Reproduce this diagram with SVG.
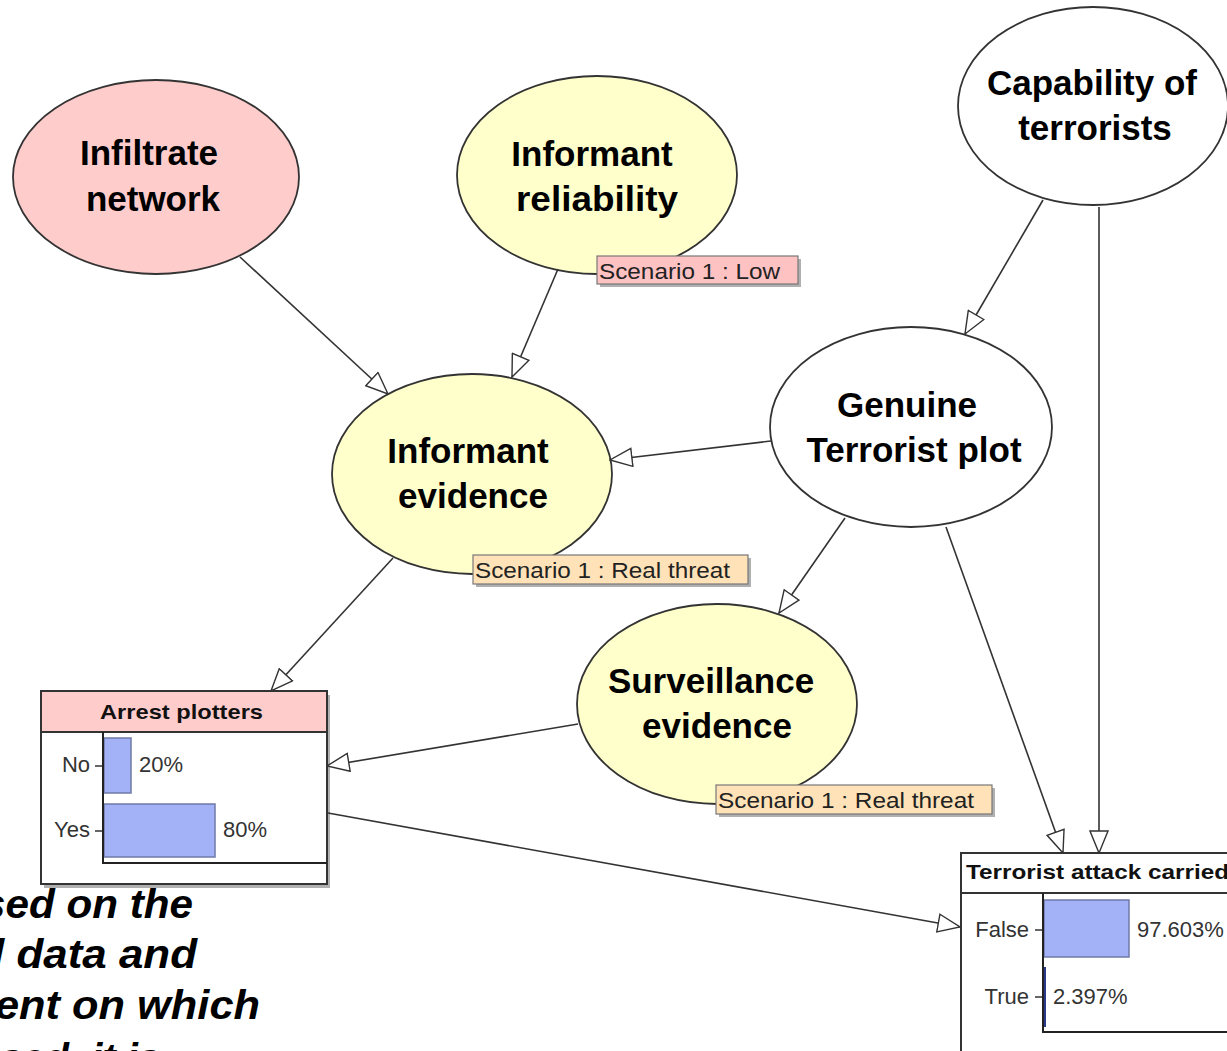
<svg xmlns="http://www.w3.org/2000/svg" width="1227" height="1051" viewBox="0 0 1227 1051">
  <style>
    .node { stroke: #333; stroke-width: 1.8; }
    .pink { fill: #ffcccc; }
    .yellow { fill: #ffffcc; }
    .white { fill: #ffffff; }
    .title { font-family: "Liberation Sans", Arial, sans-serif; font-weight: bold; font-size: 35px; fill: #000; text-anchor: middle; }
    .tag { stroke: #777; stroke-width: 1.2; }
    .tag-low { fill: #ffc2c2; }
    .tag-real { fill: #ffe2b8; }
    .shadow { fill: #b0b0b0; }
    .tagtext { font-family: "Liberation Sans", Arial, sans-serif; font-size: 22px; fill: #222; }
    .box { fill: #fff; stroke: #333; stroke-width: 2; }
    .hdr { font-family: "Liberation Sans", Arial, sans-serif; font-weight: bold; font-size: 21px; fill: #111; }
    .lbl { font-family: "Liberation Sans", Arial, sans-serif; font-size: 22px; fill: #333; }
    .bar { fill: #a3b1f7; stroke: #6f7aa8; stroke-width: 1.5; }
    .axis { stroke: #222; stroke-width: 2; fill: none; }
    .edge { stroke: #333; stroke-width: 1.6; fill: none; marker-end: url(#arrow); }
    .note { font-family: "Liberation Sans", Arial, sans-serif; font-weight: bold; font-style: italic; font-size: 40px; fill: #000; }
  </style>
  <defs>
    <marker id="arrow" viewBox="0 0 24 20" refX="23" refY="10" markerWidth="24" markerHeight="20" markerUnits="userSpaceOnUse" orient="auto">
      <path d="M1,1 L23,10 L1,19 z" fill="#fff" stroke="#333" stroke-width="1.4"/>
    </marker>
  </defs>

  <rect width="1227" height="1051" fill="#fff"/>

  <!-- free-standing note text, partly off the left edge -->
  <g id="note">
    <text class="note" x="-18" y="918" textLength="211" lengthAdjust="spacingAndGlyphs">sed on the</text>
    <text class="note" x="-8" y="968" textLength="205" lengthAdjust="spacingAndGlyphs">l data and</text>
    <text class="note" x="-5" y="1019" textLength="265" lengthAdjust="spacingAndGlyphs">ent on which</text>
    <text class="note" x="0" y="1072">sed, it is</text>
  </g>

  <g id="infiltrate-network">
    <ellipse class="node pink" cx="156" cy="177" rx="143" ry="97"/>
    <text class="title" x="149" y="165">Infiltrate</text>
    <text class="title" x="153" y="211">network</text>
  </g>

  <g id="informant-reliability">
    <ellipse class="node yellow" cx="597" cy="175" rx="140" ry="99"/>
    <text class="title" x="592" y="166">Informant</text>
    <text class="title" x="597" y="211" textLength="162" lengthAdjust="spacingAndGlyphs">reliability</text>
    <rect class="shadow" x="600" y="259" width="201" height="28"/>
    <rect class="tag tag-low" x="597" y="256" width="201" height="28"/>
    <text class="tagtext" x="599" y="279" textLength="181" lengthAdjust="spacingAndGlyphs">Scenario 1 : Low</text>
  </g>

  <g id="capability">
    <ellipse class="node white" cx="1093" cy="106" rx="135" ry="99"/>
    <text class="title" x="1092" y="95">Capability of</text>
    <text class="title" x="1095" y="140">terrorists</text>
  </g>

  <g id="informant-evidence">
    <ellipse class="node yellow" cx="472" cy="474" rx="140" ry="100"/>
    <text class="title" x="468" y="463">Informant</text>
    <text class="title" x="473" y="508">evidence</text>
    <rect class="shadow" x="476" y="558" width="275" height="29"/>
    <rect class="tag tag-real" x="473" y="555" width="275" height="29"/>
    <text class="tagtext" x="475" y="578" textLength="255" lengthAdjust="spacingAndGlyphs">Scenario 1 : Real threat</text>
  </g>

  <g id="genuine-plot">
    <ellipse class="node white" cx="911" cy="427" rx="141" ry="100"/>
    <text class="title" x="907" y="417">Genuine</text>
    <text class="title" x="914" y="462">Terrorist plot</text>
  </g>

  <g id="surveillance-evidence">
    <ellipse class="node yellow" cx="717" cy="704" rx="140" ry="100"/>
    <text class="title" x="711" y="693">Surveillance</text>
    <text class="title" x="717" y="738">evidence</text>
    <rect class="shadow" x="719" y="788" width="276" height="29"/>
    <rect class="tag tag-real" x="716" y="785" width="276" height="29"/>
    <text class="tagtext" x="718" y="808" textLength="256" lengthAdjust="spacingAndGlyphs">Scenario 1 : Real threat</text>
  </g>

  <g id="arrest-plotters">
    <rect class="shadow" x="44" y="695" width="286" height="193"/>
    <rect class="box" x="41" y="691" width="286" height="193"/>
    <rect x="42" y="692" width="284" height="40" fill="#ffcccc"/>
    <line x1="41" y1="732" x2="327" y2="732" stroke="#333" stroke-width="2"/>
    <text class="hdr" x="100" y="719" textLength="163" lengthAdjust="spacingAndGlyphs">Arrest plotters</text>
    <rect class="bar" x="104" y="738" width="27" height="55"/>
    <rect class="bar" x="104" y="804" width="111" height="53"/>
    <path class="axis" d="M103,732 V863 H327"/>
    <line x1="95" y1="766" x2="102" y2="766" stroke="#333" stroke-width="1.5"/>
    <line x1="95" y1="831" x2="102" y2="831" stroke="#333" stroke-width="1.5"/>
    <text class="lbl" x="90" y="772" text-anchor="end">No</text>
    <text class="lbl" x="90" y="837" text-anchor="end">Yes</text>
    <text class="lbl" x="139" y="772">20%</text>
    <text class="lbl" x="223" y="837">80%</text>
  </g>

  <g id="terrorist-attack">
    <rect class="box" x="961" y="853" width="300" height="230"/>
    <line x1="961" y1="893" x2="1227" y2="893" stroke="#333" stroke-width="2"/>
    <text class="hdr" x="966" y="879" textLength="263" lengthAdjust="spacingAndGlyphs">Terrorist attack carried</text>
    <rect class="bar" x="1044" y="900" width="85" height="57"/>
    <rect x="1043" y="967" width="3" height="60" fill="#2a3a8a"/>
    <path class="axis" d="M1043,893 V1032 H1227"/>
    <line x1="1035" y1="930" x2="1042" y2="930" stroke="#333" stroke-width="1.5"/>
    <line x1="1035" y1="997" x2="1042" y2="997" stroke="#333" stroke-width="1.5"/>
    <text class="lbl" x="1029" y="937" text-anchor="end">False</text>
    <text class="lbl" x="1029" y="1004" text-anchor="end">True</text>
    <text class="lbl" x="1137" y="937">97.603%</text>
    <text class="lbl" x="1053" y="1004">2.397%</text>
  </g>

  <g id="connectors">
    <path class="edge" d="M240,257 L388,394"/>
    <path class="edge" d="M558,269 L512,377"/>
    <path class="edge" d="M1043,200 L965,334"/>
    <path class="edge" d="M1099,207 L1099,853"/>
    <path class="edge" d="M771,441 L610,460"/>
    <path class="edge" d="M845,518 L779,613"/>
    <path class="edge" d="M946,527 L1063,853"/>
    <path class="edge" d="M393,558 L271,691"/>
    <path class="edge" d="M578,724 L327,766"/>
    <path class="edge" d="M328,813 L960,927"/>
  </g>
</svg>
